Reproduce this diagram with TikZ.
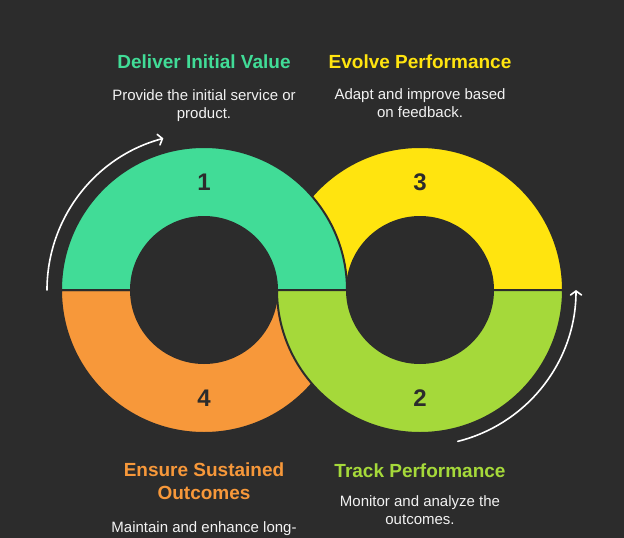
\documentclass[tikz,border=0pt]{standalone}
\usepackage{fontspec}
\setmainfont{Liberation Sans}
\usetikzlibrary{arrows.meta}
\definecolor{bgdark}{HTML}{2C2C2C}
\definecolor{seggreen}{HTML}{41DC97}
\definecolor{segyellow}{HTML}{FFE40F}
\definecolor{segorange}{HTML}{F7983A}
\definecolor{seglime}{HTML}{A5D93A}
\definecolor{numdark}{HTML}{2C2C2C}
\definecolor{txtwhite}{HTML}{F2F2F2}
\begin{document}
\begin{tikzpicture}[x=1pt,y=1pt,
  seg/.style={draw=bgdark,line width=2pt},
  num/.style={font=\fontsize{24}{24}\selectfont\bfseries,text=numdark},
  ttl/.style={font=\fontsize{19}{22.6}\selectfont\bfseries,align=center,anchor=base,inner sep=0pt},
  txt/.style={font=\fontsize{15}{18.3}\selectfont,text=txtwhite,align=center,anchor=base,inner sep=0pt},
  cyc/.style={draw=white,line width=1.6pt,line cap=round,-{Straight Barb[length=4pt,width=11pt,line cap=round]}}
]
  \fill[bgdark] (0,0) rectangle (624,-538);
  \useasboundingbox (0,0) rectangle (624,-538);

  % half rings, back ones first
  \path[seg,fill=segyellow] (277,-290) arc[start angle=180,end angle=0,radius=143] -- (493,-290) arc[start angle=0,end angle=180,radius=73] -- cycle;
  \path[seg,fill=segorange] (61,-290) arc[start angle=180,end angle=360,radius=143] -- (277,-290) arc[start angle=0,end angle=-180,radius=73] -- cycle;
  \path[seg,fill=seggreen] (61,-290) arc[start angle=180,end angle=0,radius=143] -- (277,-290) arc[start angle=0,end angle=180,radius=73] -- cycle;
  \path[seg,fill=seglime] (277,-290) arc[start angle=180,end angle=360,radius=143] -- (493,-290) arc[start angle=0,end angle=-180,radius=73] -- cycle;

  \node[num] (n1) at (204,-182) {1};
  \node[num] (n3) at (420,-182) {3};
  \node[num] (n4) at (204,-398) {4};
  \node[num] (n2) at (420,-398) {2};

  % cycle arrows
  \draw[cyc] ([shift={(180:157)}]204,-290) arc[start angle=180,end angle=105,radius=157];
  \draw[cyc] ([shift={(-76:156)}]420,-290) arc[start angle=-76,end angle=0,radius=156];

  % base of a two-line node is its last line
  \node[ttl,text=seggreen] (t1) at (204,-68) {Deliver Initial Value};
  \node[txt] (d1) at (204,-118.5) {Provide the initial service or\\product.};
  \node[ttl,text=segyellow] (t3) at (420,-68) {Evolve Performance};
  \node[txt] (d3) at (420,-117.5) {Adapt and improve based\\on feedback.};
  \node[ttl,text=segorange] (t4) at (204,-499.5) {Ensure Sustained\\Outcomes};
  \node[txt] (d4) at (204,-532) {Maintain and enhance long-};
  \node[ttl,text=seglime] (t2) at (420,-477) {Track Performance};
  \node[txt] (d2) at (420,-524.5) {Monitor and analyze the\\outcomes.};
\end{tikzpicture}
\end{document}
